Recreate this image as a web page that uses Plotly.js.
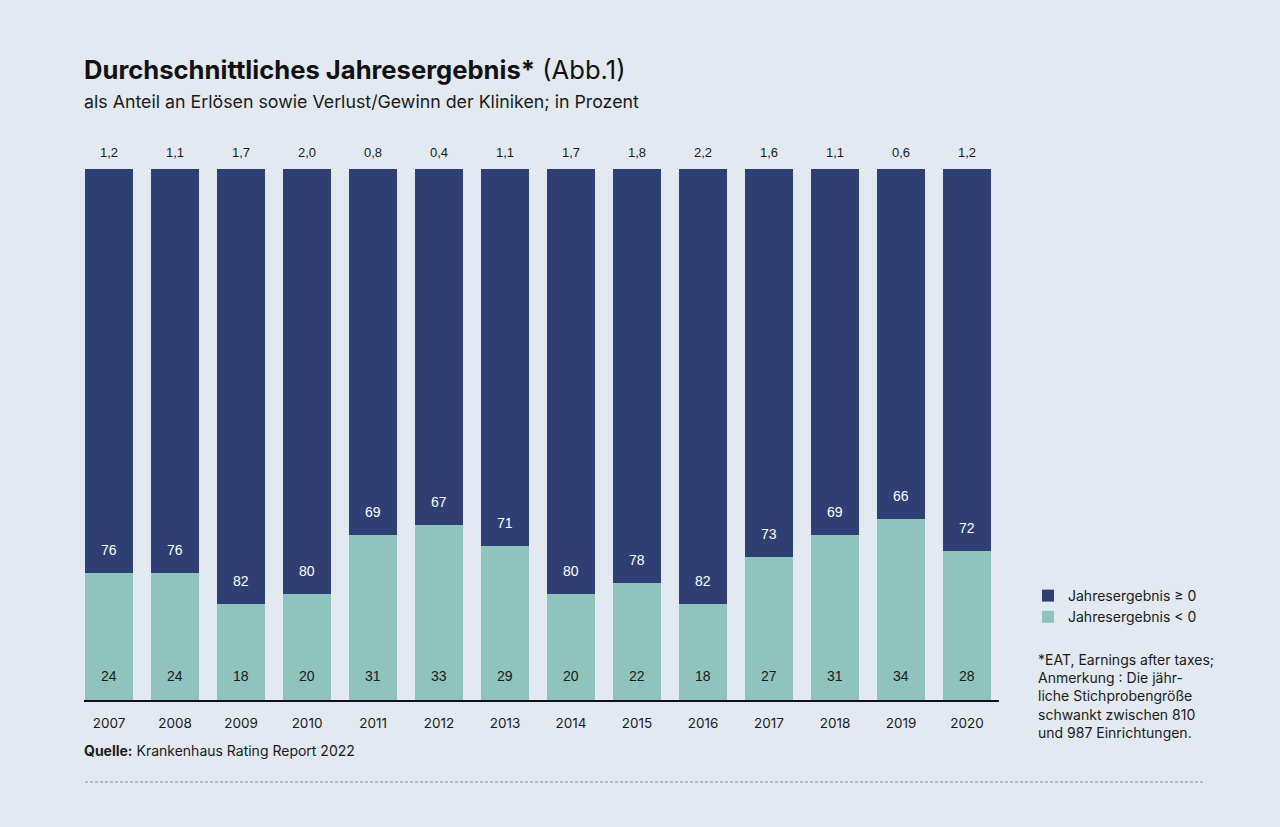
<!DOCTYPE html>
<html><head><meta charset="utf-8">
<script src="https://cdn.plot.ly/plotly-3.0.1.min.js"></script>
<style>html,body{margin:0;padding:0;background:#e2e9f0;}#chart{width:1280px;height:827px;}</style>
</head><body><div id="chart"></div>
<script>
const years = ['2007','2008','2009','2010','2011','2012','2013','2014','2015','2016','2017','2018','2019','2020'];
const negative = [24,24,18,20,31,33,29,20,22,18,27,31,34,28];
const positive = [76,76,82,80,69,67,71,80,78,82,73,69,66,72];
const avgResult = ['1,2','1,1','1,7','2,0','0,8','0,4','1,1','1,7','1,8','2,2','1,6','1,1','0,6','1,2'];

const NAVY = '#2f3f74', TEAL = '#8ec4bb', BG = '#e2e9f0';
const FONT = 'Inter, "Liberation Sans", Arial, sans-serif';
const VFONT = '"Liberation Sans", Arial, sans-serif';

const traces = [
  {type:'bar', x:years, y:negative, name:'Jahresergebnis < 0', marker:{color:TEAL}, width:0.72, hoverinfo:'skip'},
  {type:'bar', x:years, y:positive, name:'Jahresergebnis ≥ 0', marker:{color:NAVY}, width:0.72, hoverinfo:'skip'}
];

const ann = [];
years.forEach((yr,i)=>{
  ann.push({x:i, y:0, xref:'x', yref:'y', text:String(negative[i]), showarrow:false, yshift:24, yanchor:'middle',
    font:{family:VFONT, size:14, color:'#1a1a1a'}});
  ann.push({x:i, y:negative[i], xref:'x', yref:'y', text:String(positive[i]), showarrow:false, yshift:23, yanchor:'middle',
    font:{family:VFONT, size:14, color:'#ffffff'}});
  ann.push({x:i, y:negative[i]+positive[i], xref:'x', yref:'y', text:avgResult[i], showarrow:false, yshift:17, yanchor:'middle',
    font:{family:VFONT, size:13, color:'#1a1a1a'}});
});
const px = v => (v-84)/915;
const py = v => (700-v)/531;
ann.push({xref:'paper', yref:'paper', x:px(82), y:py(751), xanchor:'left', yanchor:'middle', showarrow:false,
  text:'<b>Quelle:</b> Krankenhaus Rating Report 2022', font:{family:FONT, size:14, color:'#1a1a1a'}});
ann.push({xref:'paper', yref:'paper', x:px(82), y:py(101), xanchor:'left', yanchor:'middle', showarrow:false,
  text:'als Anteil an Erlösen sowie Verlust/Gewinn der Kliniken; in Prozent', font:{family:FONT, size:17.8, color:'#1a1a1a'}});
ann.push({xref:'paper', yref:'paper', x:px(1036), y:py(696), xanchor:'left', yanchor:'middle', showarrow:false, align:'left',
  text:'*EAT, Earnings after taxes;<br>Anmerkung : Die jähr-<br>liche Stichprobengröße<br>schwankt zwischen 810<br>und 987 Einrichtungen.',
  font:{family:FONT, size:14, color:'#1a1a1a'}});

const layout = {
  width:1280, height:827,
  paper_bgcolor:BG, plot_bgcolor:BG,
  margin:{l:84, r:281, t:169, b:127},
  barmode:'stack', bargap:0.28,
  showlegend:true,
  legend:{x:px(1028), y:py(580), xanchor:'left', yanchor:'top', traceorder:'reversed', bgcolor:'rgba(0,0,0,0)',
    font:{family:FONT, size:14, color:'#1a1a1a'}, tracegroupgap:0, itemwidth:30},
  title:{text:'<b>Durchschnittliches Jahresergebnis*</b> (Abb.1)', xref:'container', yref:'container',
    x:84/1280, xanchor:'left', y:1-70/827, yanchor:'middle', font:{family:FONT, size:25.6, color:'#111111'}},
  xaxis:{type:'category', range:[-0.379, 13.485], showline:true, linecolor:'#111111', linewidth:1.5,
    ticks:'', ticklabelstandoff:10, tickfont:{family:FONT, size:13.5, color:'#1a1a1a'}, showgrid:false, zeroline:false, fixedrange:true},
  yaxis:{range:[0,100], visible:false, showgrid:false, zeroline:false, fixedrange:true},
  annotations:ann,
  shapes:[{type:'line', xref:'paper', yref:'paper', x0:px(85), x1:px(1205), y0:py(782), y1:py(782),
    line:{color:'#8a8f96', width:1, dash:'3px,2px'}}]
};
Plotly.newPlot('chart', traces, layout, {displayModeBar:false, staticPlot:true});
</script></body></html>
